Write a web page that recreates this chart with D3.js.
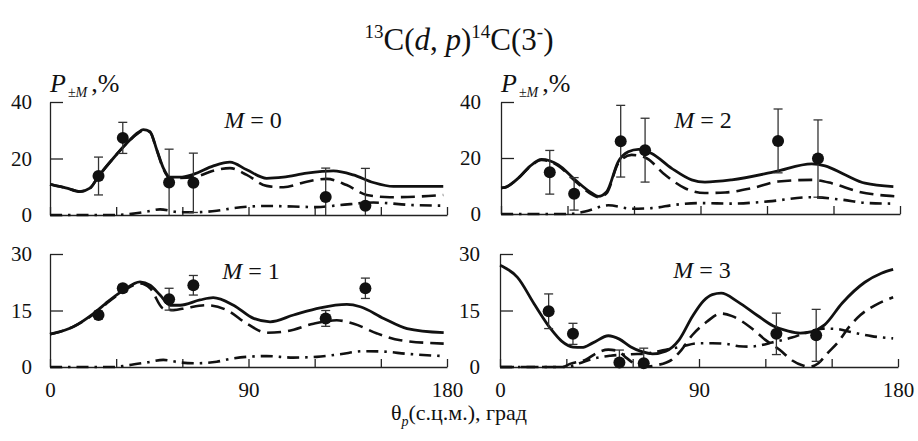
<!DOCTYPE html>
<html><head><meta charset="utf-8">
<script src="https://cdn.jsdelivr.net/npm/d3@7"></script>
<style>
html,body{margin:0;padding:0;background:#fff;}
svg text{font-family:"Liberation Serif","Times New Roman",serif;fill:#111;}
</style></head>
<body><svg id="c" width="918" height="441"></svg>
<script>
// ---------- data ----------
const xTicks = [0, 30, 60, 90, 120, 150, 180];
const xTickLabels = [0, 90, 180];
const yTicksTop = [0, 20, 40];
const yTicksBottom = [0, 15, 30];
const pointAngles = [22, 33, 54, 65, 125, 143];

// M = 0
const m0Values = [13.8, 27.3, 11.5, 11.4, 6.4, 3.3];
const m0Errors = [6.7, 5.5, 11.8, 10.5, 10.2, 13.2];
const m0Solid = [[0,10.8],[1.5,10.6],[7.6,9.5],[13.6,8.3],[18.1,9.5],[21.9,13.6],[28.7,20.1],[34.8,25.4],[40,29.2],[42.3,30.2],[45.3,29.6],[48.4,23.1],[51.4,16.6],[54.4,13.4],[58.9,13.4],[65,14.4],[74.1,17.4],[81.6,18.7],[89.2,16.0],[98.2,13.0],[105.8,13.4],[116.4,14.8],[128.5,15.6],[137.5,14.2],[146.6,11.5],[155.7,10.1],[178.3,10.1]];
const m0Dashed = [[0,10.8],[1.5,10.6],[7.6,9.5],[13.6,8.3],[18.1,9.5],[21.9,13.6],[28.7,20.1],[34.8,25.4],[40,29.0],[42.3,30.0],[45.3,29.3],[48.4,23.0],[51.4,16.3],[54.4,13.0],[65,13.4],[75.6,16.0],[81.6,16.6],[89.2,14.2],[98.2,10.3],[105.8,9.8],[116.4,11.8],[125.4,12.8],[134.5,10.6],[143.6,7.1],[154.1,6.3],[166.2,6.5],[178.3,7.1]];
const m0DashDot = [[0,0],[28.7,0],[37,0.4],[43.8,1.2],[49.9,2.0],[58.9,1.0],[66.5,1.0],[75.6,1.5],[83.1,2.4],[98.2,3.2],[110.3,3.0],[120.9,2.8],[131.5,3.5],[146.6,4.4],[164.7,3.5],[178.3,3.3]];

// M = 2
const m2Values = [14.9, 7.2, 26.0, 22.8, 26.1, 19.8];
const m2Errors = [7.8, 5.8, 12.8, 11.4, 11.4, 13.8];
const m2Solid = [[0,9.3],[1.8,9.5],[7.8,12.8],[13,17.0],[18.3,19.5],[25.9,17.5],[33.4,12.2],[40.9,7.5],[43.9,6.3],[47.7,8.0],[52.9,18.7],[57.4,22.2],[62.0,23.1],[68.0,21.6],[77.0,16.3],[86.0,12.2],[92.0,11.4],[104.1,12.2],[123.6,15.1],[140.2,17.9],[146.2,17.2],[155.2,14.0],[164.2,11.0],[177.0,9.8]];
const m2Dashed = [[0,9.3],[1.8,9.5],[7.8,12.8],[13,16.8],[18.3,19.3],[25.9,17.2],[33.4,11.8],[40.9,7.0],[43.9,6.0],[47.7,7.5],[52.9,18.1],[58.9,21.1],[65.0,20.2],[74.0,14.0],[83.0,9.2],[92.0,7.5],[101.1,7.7],[113.1,9.2],[125.1,11.6],[140.2,12.2],[149.2,11.0],[161.2,8.0],[177.7,6.3]];
const m2DashDot = [[0,0],[30,0],[37.9,0.9],[48.4,3.1],[59,1.9],[68,2.1],[78.5,3.3],[90.5,3.9],[104,3.7],[120.6,4.5],[140,6.0],[153.7,5.1],[165.7,3.9],[177.7,3.7]];

// M = 1
const m1Values = [13.8, 20.9, 18.0, 21.7, 12.9, 20.9];
const m1Errors = [1.0, 1.0, 2.9, 2.6, 2.1, 2.7];
const m1Solid = [[0,8.7],[1.5,8.9],[10.6,10.7],[19.7,14.2],[27.2,17.8],[33.3,20.4],[40.8,22.6],[45.4,21.7],[49.9,19.1],[54.5,16.4],[59,16.4],[68,17.8],[74,18.4],[83.2,16.4],[92.3,12.9],[99.8,12.0],[110.4,13.8],[122.5,15.7],[134.6,16.6],[140.7,16.0],[151.3,12.9],[161.9,10.2],[178.5,9.1]];
const m1Dashed = [[0,8.7],[1.5,8.9],[10.6,10.7],[19.7,14.0],[27.2,17.6],[33.3,20.2],[40.8,22.2],[45.4,20.9],[51.4,15.5],[56,15.1],[62,15.7],[71.1,16.4],[80.2,15.1],[89.3,11.5],[98.3,9.1],[107.4,9.5],[119.5,11.5],[130,12.4],[137.7,11.5],[148.3,8.9],[158.9,7.1],[178.5,6.2]];
const m1DashDot = [[0,0],[28.7,0],[34.7,0.4],[43.8,1.2],[51.4,1.9],[58.9,1.2],[66.5,1.0],[75.6,1.4],[83.1,2.3],[98.2,2.9],[110.3,2.5],[120.9,2.7],[131.5,3.4],[142.1,4.2],[151.1,4.1],[161.7,3.5],[178.3,2.9]];

// M = 3
const m3Values = [14.8, 8.8, 1.2, 1.0, 8.8, 8.4];
const m3Errors = [4.6, 2.8, 3.3, 4.0, 5.5, 6.9];
const m3Solid = [[0,27.0],[1.8,26.5],[7.9,23.8],[15.4,16.8],[23.0,10.1],[28,6.8],[33,5.3],[37,5.2],[42,6.4],[49,8.3],[54,7.4],[59,5.4],[64.5,4.0],[69,3.5],[75,4.2],[81,7.2],[87,13.4],[92,17.5],[96,19.2],[100,19.6],[107.6,17.3],[116.6,13.6],[123.6,10.9],[130,9.6],[135.7,9.0],[141,9.4],[146.8,11.2],[154.8,17.0],[165.0,22.5],[172.5,24.9],[177.8,25.9]];
const m3Dashed = [[0,0],[28,0],[32,0.9],[39,2.0],[44,3.8],[49,4.6],[53,4.3],[57,2.5],[61,0.8],[65,0.1],[71,0.5],[77.6,1.9],[82,4.5],[87,8.5],[93.5,12.0],[100,14.2],[105,13.5],[113.8,10.3],[120,7.2],[126.6,4.5],[132,1.8],[137,0.4],[140,0.1],[144,1.0],[148,3.6],[153,6.7],[158,10.7],[163,13.8],[170,16.5],[177.8,18.5]];
const m3DashDot = [[0,0],[30,0],[36,1.0],[42,2.2],[50,3.0],[59.6,3.4],[65,3.5],[75,4.6],[82,5.4],[89.7,6.3],[96,6.3],[102.6,6.1],[108,5.5],[113,5.4],[118,5.8],[123,6.5],[132,7.8],[140,9.4],[146,10.2],[152,10.1],[160,9.1],[168,8.2],[177.8,7.6]];

// ---------- layout ----------
const svg = d3.select("#c");
const panels = [
  {m:"0", x0:50, x1:447, yb:215, yt:102, ymax:40, yticks:yTicksTop, vals:m0Values, errs:m0Errors, solid:m0Solid, dashed:m0Dashed, dashdot:m0DashDot, showX:false, showP:true, lx:253, ly:128},
  {m:"2", x0:501, x1:900, yb:214, yt:102, ymax:40, yticks:yTicksTop, vals:m2Values, errs:m2Errors, solid:m2Solid, dashed:m2Dashed, dashdot:m2DashDot, showX:false, showP:true, lx:703, ly:128},
  {m:"1", x0:50, x1:447, yb:367, yt:254, ymax:30, yticks:yTicksBottom, vals:m1Values, errs:m1Errors, solid:m1Solid, dashed:m1Dashed, dashdot:m1DashDot, showX:true, showP:false, lx:251, ly:279},
  {m:"3", x0:500, x1:898, yb:367, yt:254, ymax:30, yticks:yTicksBottom, vals:m3Values, errs:m3Errors, solid:m3Solid, dashed:m3Dashed, dashdot:m3DashDot, showX:true, showP:false, lx:702, ly:278}
];

panels.forEach(p => {
  const x = d3.scaleLinear().domain([0,180]).range([p.x0, p.x1]);
  const y = d3.scaleLinear().domain([0,p.ymax]).range([p.yb, p.yt]);
  const g = svg.append("g");

  // x axis
  const xa = d3.axisBottom(x).tickValues(xTicks).tickSizeInner(-8).tickSizeOuter(0).tickPadding(15)
    .tickFormat(d => (p.showX && xTickLabels.includes(d)) ? d : "");
  const gx = g.append("g").attr("transform", `translate(0,${p.yb})`).call(xa);
  gx.attr("font-family", "Liberation Serif");
  gx.select(".domain").attr("stroke", "#222").attr("stroke-width", 1.6);
  gx.selectAll(".tick line").attr("stroke", "#222").attr("stroke-width", 1.3);
  gx.selectAll("text").attr("font-size", 21).attr("fill", "#111");

  // y axis
  const ya = d3.axisLeft(y).tickValues(p.yticks).tickSizeInner(-13).tickSizeOuter(0).tickPadding(p.x0 > 400 ? 20 : 18);
  const gy = g.append("g").attr("transform", `translate(${p.x0},0)`).call(ya);
  gy.attr("font-family", "Liberation Serif");
  gy.select(".domain").attr("stroke", "#222").attr("stroke-width", 1.3);
  gy.selectAll(".tick line").attr("stroke", "#222").attr("stroke-width", 1.3);
  gy.selectAll("text").attr("font-size", 21).attr("fill", "#111");

  // curves
  const line = d3.line().x(d => x(d[0])).y(d => y(d[1])).curve(d3.curveMonotoneX);
  g.append("path").datum(p.dashdot).attr("d", line).attr("fill","none").attr("stroke","#111")
    .attr("stroke-width", 2.6).attr("stroke-dasharray", "12,6,2.5,6");
  g.append("path").datum(p.dashed).attr("d", line).attr("fill","none").attr("stroke","#111")
    .attr("stroke-width", 2.6).attr("stroke-dasharray", "14,7");
  g.append("path").datum(p.solid).attr("d", line).attr("fill","none").attr("stroke","#111")
    .attr("stroke-width", 2.8);

  // error bars + points
  const pts = pointAngles.map((a,i) => ({a, v:p.vals[i], e:p.errs[i]}));
  const eb = g.append("g").selectAll("g").data(pts).join("g");
  eb.append("line").attr("x1", d => x(d.a)).attr("x2", d => x(d.a))
    .attr("y1", d => y(Math.max(0, d.v - d.e))).attr("y2", d => y(Math.min(p.ymax, d.v + d.e)))
    .attr("stroke", "#333").attr("stroke-width", 1.3);
  eb.append("line").attr("x1", d => x(d.a) - 4.5).attr("x2", d => x(d.a) + 4.5)
    .attr("y1", d => y(d.v + d.e)).attr("y2", d => y(d.v + d.e))
    .attr("stroke", "#333").attr("stroke-width", 1.3);
  eb.filter(d => d.v - d.e > 0).append("line").attr("x1", d => x(d.a) - 4.5).attr("x2", d => x(d.a) + 4.5)
    .attr("y1", d => y(d.v - d.e)).attr("y2", d => y(d.v - d.e))
    .attr("stroke", "#333").attr("stroke-width", 1.3);
  g.append("g").selectAll("circle").data(pts).join("circle")
    .attr("cx", d => x(d.a)).attr("cy", d => y(d.v)).attr("r", 6).attr("fill", "#111");

  // panel label
  const t = g.append("text").attr("x", p.lx).attr("y", p.ly).attr("text-anchor","middle").attr("font-size", 24);
  t.append("tspan").attr("font-style","italic").text("M");
  t.append("tspan").text(" = " + p.m);

  // P label
  if (p.showP) {
    const pl = g.append("text").attr("x", p.x0).attr("y", 92).attr("font-size", 26);
    pl.append("tspan").attr("font-style","italic").text("P");
    pl.append("tspan").attr("font-size", 14).attr("dy", 5).attr("dx", 2).text("±");
    pl.append("tspan").attr("font-size", 14).attr("font-style","italic").text("M");
    pl.append("tspan").attr("dy", -5).attr("dx", 4).text(",%");
  }
});

// title
const title = svg.append("text").attr("x", 459).attr("y", 50).attr("text-anchor","middle").attr("font-size", 31);
title.append("tspan").attr("font-size", 19).attr("dy", -12).text("13");
title.append("tspan").attr("dy", 12).text("C(");
title.append("tspan").attr("font-style","italic").text("d");
title.append("tspan").text(", ");
title.append("tspan").attr("font-style","italic").text("p");
title.append("tspan").text(")");
title.append("tspan").attr("font-size", 19).attr("dy", -12).text("14");
title.append("tspan").attr("dy", 12).text("C(3");
title.append("tspan").attr("font-size", 19).attr("dy", -12).text("-");
title.append("tspan").attr("dy", 12).text(")");

// x axis title
const xt = svg.append("text").attr("x", 459).attr("y", 420).attr("text-anchor","middle").attr("font-size", 22);
xt.append("tspan").text("θ");
xt.append("tspan").attr("font-size", 14).attr("font-style","italic").attr("dy", 6).text("p");
xt.append("tspan").attr("dy", -6).text("(с.ц.м.), град");
</script></body></html>
